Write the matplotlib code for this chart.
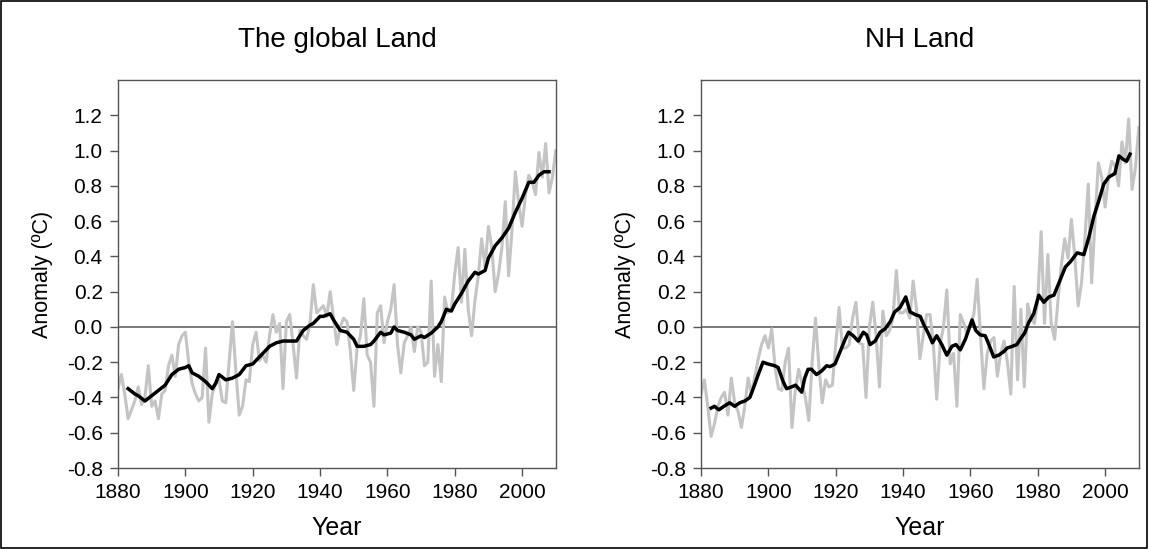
import matplotlib
matplotlib.use("Agg")
import matplotlib.pyplot as plt
from matplotlib.patches import Rectangle

plt.rcParams["font.family"] = ["Liberation Sans", "DejaVu Sans"]

years = list(range(1880, 2011))

# annual land anomalies (grey)
global_annual = [
    -0.35, -0.27, -0.38, -0.52, -0.47, -0.42, -0.34, -0.44, -0.40, -0.22,
    -0.45, -0.42, -0.52, -0.38, -0.36, -0.22, -0.16, -0.28, -0.10, -0.05,
    -0.03, -0.20, -0.32, -0.38, -0.42, -0.40, -0.12, -0.54, -0.38, -0.32,
    -0.30, -0.42, -0.43, -0.20, 0.03, -0.25, -0.50, -0.45, -0.30, -0.31,
    -0.10, -0.03, -0.19, -0.16, -0.20, -0.05, 0.07, -0.03, 0.02, -0.35,
    0.03, 0.07, -0.10, -0.29, -0.02, -0.05, -0.07, 0.02, 0.24, 0.08,
    0.10, 0.12, 0.06, 0.20, 0.05, -0.10, 0.00, 0.05, 0.03, -0.14,
    -0.36, -0.12, -0.05, 0.16, -0.16, -0.20, -0.45, 0.08, 0.12, -0.09,
    0.03, 0.10, 0.24, -0.10, -0.26, -0.09, -0.05, 0.00, -0.14, 0.00,
    -0.03, -0.22, -0.20, 0.26, -0.28, -0.10, -0.31, 0.17, 0.08, 0.10,
    0.30, 0.45, 0.14, 0.44, 0.10, -0.05, 0.15, 0.29, 0.50, 0.34,
    0.57, 0.45, 0.20, 0.30, 0.45, 0.71, 0.29, 0.55, 0.88, 0.70,
    0.57, 0.75, 0.86, 0.82, 0.75, 0.99, 0.85, 1.04, 0.76, 0.85,
    1.00,
]

nh_annual = [
    -0.38, -0.30, -0.45, -0.62, -0.55, -0.45, -0.40, -0.37, -0.50, -0.29,
    -0.43, -0.48, -0.57, -0.45, -0.29, -0.38, -0.28, -0.18, -0.10, -0.05,
    -0.12, -0.01, -0.23, -0.35, -0.36, -0.20, -0.12, -0.57, -0.36, -0.24,
    -0.32, -0.40, -0.53, -0.20, 0.05, -0.22, -0.43, -0.30, -0.34, -0.33,
    -0.10, 0.11, -0.12, -0.12, -0.10, 0.05, 0.14, -0.09, -0.10, -0.40,
    0.00, 0.14, -0.05, -0.34, 0.09, -0.05, -0.02, 0.05, 0.32, 0.08,
    0.08, 0.10, 0.05, 0.26, 0.10, -0.18, -0.05, 0.07, 0.07, -0.10,
    -0.41, -0.10, 0.00, 0.21, -0.21, -0.15, -0.45, 0.07, 0.02, -0.04,
    0.02, 0.07, 0.27, -0.05, -0.35, -0.15, -0.08, -0.06, -0.28, -0.15,
    -0.08, -0.20, -0.38, 0.23, -0.30, 0.10, -0.34, 0.13, 0.05, 0.02,
    0.15, 0.54, 0.02, 0.41, 0.02, -0.07, 0.15, 0.35, 0.50, 0.39,
    0.61, 0.40, 0.12, 0.25, 0.50, 0.81, 0.25, 0.60, 0.93, 0.85,
    0.68, 0.85, 0.94, 0.91, 0.80, 1.05, 0.93, 1.18, 0.78, 0.90,
    1.13,
]

# smoothed curves (black)
global_smooth_years = [
    1883, 1885, 1886, 1888, 1890, 1892, 1894, 1896, 1898, 1900,
    1901, 1902, 1904, 1906, 1908, 1909, 1910, 1912, 1914, 1916,
    1918, 1920, 1922, 1923, 1925, 1927, 1929, 1931, 1933, 1935,
    1937, 1938, 1940, 1941, 1943, 1944, 1945, 1946, 1948, 1950,
    1951, 1953, 1955, 1956, 1958, 1959, 1961, 1962, 1963, 1965,
    1967, 1968, 1970, 1971, 1973, 1975, 1976, 1977.5, 1979, 1980,
    1982, 1984, 1986, 1987, 1989, 1990, 1992, 1994, 1996, 1998,
    2000, 2002, 2003.5, 2005, 2006.5, 2008,
]
global_smooth = [
    -0.35, -0.38, -0.39, -0.42, -0.39, -0.36, -0.33, -0.27, -0.24, -0.23,
    -0.22, -0.26, -0.28, -0.31, -0.35, -0.32, -0.27, -0.30, -0.29, -0.27,
    -0.22, -0.21, -0.17, -0.15, -0.11, -0.09, -0.08, -0.08, -0.08, -0.02,
    0.01, 0.02, 0.06, 0.06, 0.075, 0.04, 0.01, -0.02, -0.03, -0.07,
    -0.11, -0.11, -0.10, -0.08, -0.03, -0.045, -0.035, 0.00, -0.02, -0.03,
    -0.045, -0.07, -0.05, -0.06, -0.035, 0.00, 0.03, 0.10, 0.09, 0.13,
    0.19, 0.26, 0.31, 0.30, 0.32, 0.39, 0.46, 0.505, 0.56, 0.65,
    0.73, 0.82, 0.82, 0.86, 0.88, 0.88,
]

nh_smooth_years = [
    1883, 1884, 1885.3, 1886.8, 1888.5, 1890, 1891.5, 1893, 1894.5, 1895.5,
    1897, 1898.4, 1899.9, 1901.9, 1902.9, 1904.4, 1905.4, 1906.9, 1908.1, 1909.9,
    1910.8, 1911.8, 1912.8, 1914.3, 1915.8, 1917.3, 1918.3, 1919.8, 1921.3, 1922.8,
    1923.8, 1925.2, 1926.7, 1928.2, 1929.2, 1930.2, 1931.7, 1933.2, 1934.7, 1936.2,
    1937.5, 1939.1, 1940.8, 1942.1, 1943.6, 1945.1, 1946.1, 1947.6, 1948.7, 1950,
    1951.5, 1953, 1954.5, 1955.7, 1957, 1958.5, 1960.5, 1961.6, 1962.9, 1964.4,
    1965.6, 1966.9, 1968.4, 1969.9, 1970.9, 1972.4, 1973.8, 1974.8, 1976.1, 1977.3,
    1978.8, 1980.3, 1981.8, 1983.3, 1984.8, 1986.3, 1988.2, 1989.7, 1991.7, 1993.7,
    1995.2, 1996.7, 1998.2, 1999.6, 2001.1, 2002.9, 2004.1, 2005.4, 2006.4, 2007.4,
]
nh_smooth = [
    -0.46, -0.45, -0.47, -0.45, -0.43, -0.45, -0.43, -0.42, -0.40, -0.35,
    -0.27, -0.20, -0.21, -0.22, -0.23, -0.31, -0.35, -0.34, -0.33, -0.37,
    -0.29, -0.24, -0.24, -0.27, -0.25, -0.22, -0.225, -0.21, -0.14, -0.07,
    -0.03, -0.05, -0.08, -0.03, -0.045, -0.10, -0.08, -0.03, -0.01, 0.03,
    0.085, 0.11, 0.17, 0.085, 0.07, 0.06, 0.015, -0.04, -0.09, -0.05,
    -0.10, -0.16, -0.11, -0.10, -0.13, -0.07, 0.04, -0.02, -0.045, -0.05,
    -0.105, -0.17, -0.16, -0.14, -0.12, -0.11, -0.10, -0.07, -0.035, 0.025,
    0.075, 0.18, 0.14, 0.17, 0.18, 0.25, 0.34, 0.37, 0.42, 0.41,
    0.51, 0.63, 0.72, 0.81, 0.85, 0.87, 0.97, 0.95, 0.94, 0.98,
]

panels = [
    ("The global Land", global_annual, global_smooth_years, global_smooth),
    ("NH Land", nh_annual, nh_smooth_years, nh_smooth),
]

fig = plt.figure(figsize=(11.49, 5.49), dpi=100)
fig.patches.append(
    Rectangle((0.001, 0.002), 0.997, 0.996, transform=fig.transFigure,
              fill=False, edgecolor="black", linewidth=1.2)
)

lefts = [0.1027, 0.6101]

for left, (title, annual, sm_years, sm_vals) in zip(lefts, panels):
    ax = fig.add_axes([left, 0.1475, 0.381, 0.7067])

    ax.axhline(0, color="#555555", linewidth=1.1, zorder=1)
    ax.plot(years, annual, color="#c4c4c4", linewidth=2.2,
            solid_joinstyle="round", zorder=2)
    ax.plot(sm_years, sm_vals, color="black", linewidth=2.5,
            solid_joinstyle="round", zorder=3)

    ax.set_xlim(1880, 2010)
    ax.set_ylim(-0.8, 1.4)
    ax.set_xticks(range(1880, 2001, 20))
    ax.set_yticks([-0.8 + 0.2 * i for i in range(11)])
    ax.set_yticklabels([f"{-0.8 + 0.2 * i:.1f}" for i in range(11)])

    ax.tick_params(direction="out", length=6, width=1, color="#555555",
                   labelsize=15, pad=5)
    for spine in ax.spines.values():
        spine.set_color("#555555")
        spine.set_linewidth(1)

    ax.set_title(title, fontsize=20, pad=24)
    ax.set_xlabel("Year", fontsize=18, labelpad=10)
    ax.set_ylabel("Anomaly (ºC)", fontsize=15.5, labelpad=10)

plt.savefig("out.png", dpi=100)
plt.close()
